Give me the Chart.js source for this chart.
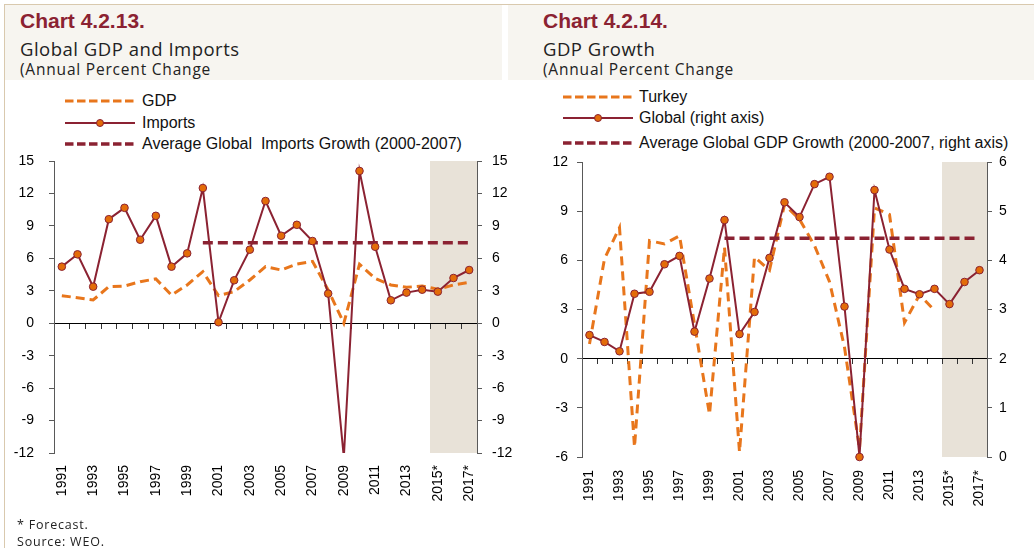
<!DOCTYPE html>
<html><head><meta charset="utf-8">
<script src="https://cdn.jsdelivr.net/npm/chart.js@4.4.1/dist/chart.umd.min.js"></script>
<style>
html,body{margin:0;padding:0;background:#fff;}
body{width:1034px;height:548px;position:relative;overflow:hidden;font-family:"Liberation Sans",Arial,sans-serif;}
.frameTop{position:absolute;left:4px;top:4px;width:1030px;height:1px;background:#D9C9AE;}
.frameLeft{position:absolute;left:4px;top:4px;width:1px;height:544px;background:#D9C9AE;}
.band{position:absolute;top:5px;height:75px;background:#F7F5F0;}
.title{position:absolute;font-weight:bold;font-size:21px;font-family:"Liberation Sans";color:#8B2232;line-height:21px;white-space:nowrap;}
.sub{position:absolute;font-family:"Open Sans";color:#222;white-space:nowrap;}
.leg{position:absolute;height:16px;white-space:nowrap;}
.leg svg{position:absolute;left:0;top:2px;}
.leg span{position:absolute;top:0;font-size:16px;line-height:16px;font-family:"Liberation Sans";color:#111;}
canvas{position:absolute;top:0;}
.foot{position:absolute;left:17px;font-family:"Open Sans";font-size:12.5px;line-height:12.5px;letter-spacing:0.8px;color:#222;white-space:nowrap;}
</style>
</head><body>
<div class="band" style="left:5px;width:497px"></div>
<div class="band" style="left:508px;width:526px"></div>
<div class="frameTop"></div>
<div class="frameLeft"></div>

<div class="title" style="left:20px;top:10px">Chart 4.2.13.</div>
<div class="sub" style="left:20px;top:39.5px;font-size:18.5px;line-height:18.5px;letter-spacing:0.5px">Global GDP and Imports</div>
<div class="sub" style="left:20px;top:62px;font-size:15.5px;line-height:15.5px;letter-spacing:0.8px">(Annual Percent Change</div>

<div class="title" style="left:543px;top:10px">Chart 4.2.14.</div>
<div class="sub" style="left:543px;top:39.5px;font-size:18.5px;line-height:18.5px;letter-spacing:0.5px">GDP Growth</div>
<div class="sub" style="left:543px;top:62px;font-size:15.5px;line-height:15.5px;letter-spacing:0.8px">(Annual Percent Change</div>

<div class="leg" style="left:65px;top:93px">
  <svg width="72" height="12"><line x1="0" y1="6" x2="70" y2="6" stroke="#E8761C" stroke-width="3" stroke-dasharray="8.5 3.5"/></svg>
  <span style="left:77px">GDP</span></div>
<div class="leg" style="left:65px;top:114.5px">
  <svg width="72" height="12"><line x1="0" y1="6" x2="70" y2="6" stroke="#8B2232" stroke-width="2"/><circle cx="35" cy="6" r="3.5" fill="#E36C09" stroke="#8B2232" stroke-width="1"/></svg>
  <span style="left:77px">Imports</span></div>
<div class="leg" style="left:65px;top:136px">
  <svg width="72" height="12"><line x1="0" y1="6" x2="70" y2="6" stroke="#8B2232" stroke-width="3.5" stroke-dasharray="8.5 3.5"/></svg>
  <span style="left:77px">Average Global&nbsp; Imports Growth (2000-2007)</span></div>

<div class="leg" style="left:563px;top:88.5px">
  <svg width="72" height="12"><line x1="0" y1="6" x2="70" y2="6" stroke="#E8761C" stroke-width="3" stroke-dasharray="8.5 3.5"/></svg>
  <span style="left:76px">Turkey</span></div>
<div class="leg" style="left:563px;top:109.5px">
  <svg width="72" height="12"><line x1="0" y1="6" x2="70" y2="6" stroke="#8B2232" stroke-width="2"/><circle cx="35" cy="6" r="3.5" fill="#E36C09" stroke="#8B2232" stroke-width="1"/></svg>
  <span style="left:76px">Global (right axis)</span></div>
<div class="leg" style="left:563px;top:134.5px">
  <svg width="72" height="12"><line x1="0" y1="6" x2="70" y2="6" stroke="#8B2232" stroke-width="3.5" stroke-dasharray="8.5 3.5"/></svg>
  <span style="left:76px">Average Global GDP Growth (2000-2007, right axis)</span></div>

<canvas id="c1" width="517" height="548" style="left:0px"></canvas>
<canvas id="c2" width="517" height="548" style="left:517px"></canvas>

<div class="foot" style="top:519px">* Forecast.</div>
<div class="foot" style="top:536px">Source: WEO.</div>

<script>
// ---- Data ----
const years = ['1991','1992','1993','1994','1995','1996','1997','1998','1999','2000',
  '2001','2002','2003','2004','2005','2006','2007','2008','2009','2010',
  '2011','2012','2013','2014','2015*','2016*','2017*'];
const forecastStart = '2015*';

// Chart 4.2.13
const globalGdp = [2.55, 2.35, 2.15, 3.38, 3.44, 3.84, 4.1, 2.6, 3.54, 4.77,
  2.55, 2.92, 4.0, 5.23, 4.92, 5.47, 5.72, 3.07, 0.0, 5.45,
  4.15, 3.54, 3.32, 3.44, 3.14, 3.54, 3.78];
const globalImports = [5.23, 6.37, 3.38, 9.62, 10.67, 7.72, 9.93, 5.23, 6.46, 12.5,
  0.09, 3.97, 6.8, 11.3, 8.09, 9.1, 7.6, 2.74, -12.4, 14.08,
  7.07, 2.12, 2.83, 3.1, 2.92, 4.18, 4.92];
const avgImports = [null, null, null, null, null, null, null, null, null, 7.44,
  7.44, 7.44, 7.44, 7.44, 7.44, 7.44, 7.44, 7.44, 7.44, 7.44,
  7.44, 7.44, 7.44, 7.44, 7.44, 7.44, 7.44];
const leftTicks1 = {min: -12, max: 15, step: 3};

// Chart 4.2.14
const turkeyGdp = [0.9, 6.1, 8.0, -5.4, 7.2, 7.0, 7.5, 2.1, -3.4, 6.8,
  -5.7, 6.2, 5.4, 9.4, 8.5, 6.9, 4.7, 0.7, -5.5, 9.2,
  8.8, 2.2, 3.9, 2.95, null, null, null];
const worldGdp = [2.48, 2.34, 2.15, 3.32, 3.36, 3.92, 4.09, 2.55, 3.63, 4.82,
  2.50, 2.95, 4.05, 5.18, 4.88, 5.55, 5.70, 3.06, 0.0, 5.43,
  4.22, 3.42, 3.31, 3.42, 3.11, 3.56, 3.80];
const avgWorldGdp = [null, null, null, null, null, null, null, null, null, 4.45,
  4.45, 4.45, 4.45, 4.45, 4.45, 4.45, 4.45, 4.45, 4.45, 4.45,
  4.45, 4.45, 4.45, 4.45, 4.45, 4.45, 4.45];
const leftTicks2 = {min: -6, max: 12, step: 3};
const rightTicks2 = {min: 0, max: 6, step: 1};

// ---- Styles ----
const MAROON = '#8B2232', ORANGE = '#E8761C', MARKER = '#E36C09', AXIS = '#595959';
const tickFont = {family: 'Liberation Sans', size: 14};

const shadePlugin = {
  id: 'shade',
  beforeDraw(chart, args, opts) {
    const x = chart.scales.x, ca = chart.chartArea, ctx = chart.ctx;
    const idx = chart.data.labels.indexOf(opts.from);
    const half = (x.getPixelForValue(1) - x.getPixelForValue(0)) / 2;
    const left = x.getPixelForValue(idx) - half;
    ctx.save();
    ctx.fillStyle = '#E8E2D8';
    ctx.fillRect(left, ca.top, ca.right - left, ca.bottom - ca.top);
    ctx.restore();
  }
};

function yAxis(pos, rng, pad, width) {
  return {
    position: pos, min: rng.min, max: rng.max,
    ticks: {stepSize: rng.step, padding: pad, color: '#000', font: tickFont},
    grid: {drawOnChartArea: false, drawTicks: true, tickLength: 5, color: AXIS},
    border: {display: true, color: AXIS, width: 1},
    afterFit(s) { s.width = width; }
  };
}
function xAxes(labelPad) {
  return {
    x: {
      type: 'category', offset: true, position: {y: 0},
      grid: {display: true, drawOnChartArea: false, drawTicks: true, tickLength: 5, color: '#333', offset: true},
      border: {display: true, color: '#000', width: 1},
      ticks: {display: false},
      afterFit(s) { s.height = 0; }
    },
    x2: {
      type: 'category', offset: true, position: 'bottom',
      grid: {display: false, drawTicks: false},
      border: {display: false},
      ticks: {autoSkip: false, maxRotation: 90, minRotation: 90, padding: labelPad, color: '#000', font: tickFont,
        callback(v, i) { return i % 2 === 0 ? this.getLabelForValue(v) : ''; }},
      afterFit(s) { s.height = 60; }
    }
  };
}

const common = {
  responsive: false, animation: false, devicePixelRatio: 1,
  plugins: {legend: {display: false}, tooltip: {enabled: false}, shade: {from: forecastStart}},
  elements: {line: {tension: 0}}
};

new Chart(document.getElementById('c1'), {
  type: 'line',
  data: {
    labels: years,
    datasets: [
      {data: globalImports, xAxisID: 'x', yAxisID: 'y', borderColor: MAROON, borderWidth: 2,
        pointRadius: 3.8, pointBackgroundColor: MARKER, pointBorderColor: MAROON, pointBorderWidth: 1, order: 0},
      {data: avgImports, xAxisID: 'x', yAxisID: 'y', borderColor: MAROON, borderWidth: 3.5,
        borderDash: [10, 5], pointRadius: 0, order: 1},
      {data: globalGdp, xAxisID: 'x', yAxisID: 'y', borderColor: ORANGE, borderWidth: 3,
        borderDash: [9, 5], pointRadius: 0, order: 2}
    ]
  },
  options: Object.assign({}, common, {
    layout: {padding: {left: 14, right: 0, top: 161, bottom: 35}},
    scales: Object.assign(xAxes(12), {
      y: yAxis('left', leftTicks1, 15, 40),
      y2: yAxis('right', leftTicks1, 10, 40)
    })
  }),
  plugins: [shadePlugin]
});

new Chart(document.getElementById('c2'), {
  type: 'line',
  data: {
    labels: years,
    datasets: [
      {data: worldGdp, xAxisID: 'x', yAxisID: 'y2', borderColor: MAROON, borderWidth: 2, clip: false,
        pointRadius: 3.8, pointBackgroundColor: MARKER, pointBorderColor: MAROON, pointBorderWidth: 1, order: 0},
      {data: avgWorldGdp, xAxisID: 'x', yAxisID: 'y2', borderColor: MAROON, borderWidth: 3.5,
        borderDash: [10, 5], pointRadius: 0, order: 1},
      {data: turkeyGdp, xAxisID: 'x', yAxisID: 'y', borderColor: ORANGE, borderWidth: 3,
        borderDash: [9, 6], pointRadius: 0, order: 2}
    ]
  },
  options: Object.assign({}, common, {
    layout: {padding: {left: 25, right: 7, top: 162, bottom: 31}},
    scales: Object.assign(xAxes(13), {
      y: yAxis('left', leftTicks2, 9, 40),
      y2: yAxis('right', rightTicks2, 7, 40)
    })
  }),
  plugins: [shadePlugin]
});
</script>
</body></html>
